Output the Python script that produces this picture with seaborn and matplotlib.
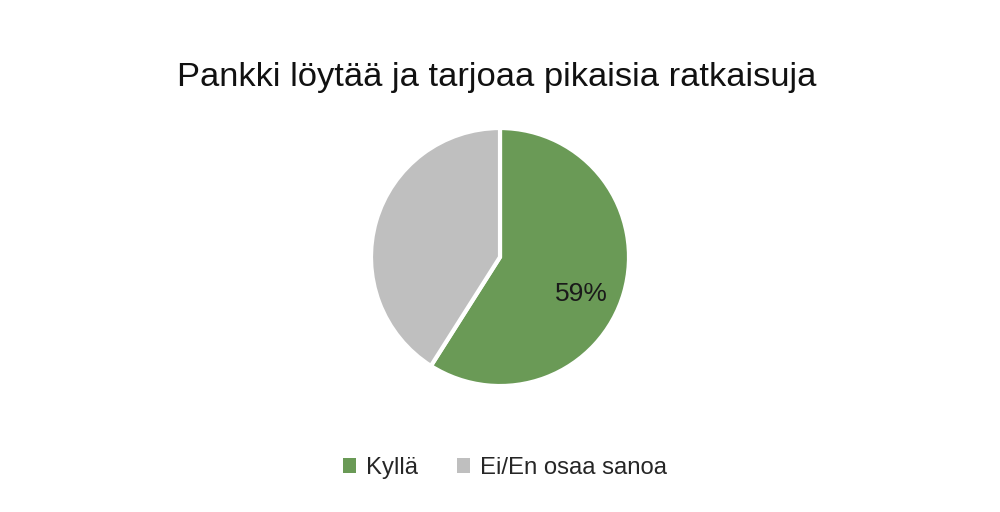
import matplotlib
matplotlib.use("Agg")
import matplotlib.pyplot as plt
import seaborn as sns
from matplotlib.patches import Patch

labels = ["Kyllä", "Ei/En osaa sanoa"]
values = [59, 41]
colors = ["#6a9a56", "#bfbfbf"]
title = "Pankki löytää ja tarjoaa pikaisia ratkaisuja"

sns.set_theme(style="white")
plt.rcParams["font.family"] = ["Liberation Sans", "DejaVu Sans"]

fig = plt.figure(figsize=(10, 5.12), dpi=100)
ax = fig.add_axes([0.371, 0.246, 0.258, 0.504])

wedges, texts, autotexts = ax.pie(
    values, colors=colors, startangle=90, counterclock=False,
    autopct="%1.0f%%", pctdistance=0.68,
    wedgeprops=dict(edgecolor="white", linewidth=3),
    textprops=dict(fontsize=19, color="#1a1a1a"),
)
autotexts[1].set_text("")
# nudge the label a little lower, like the reference
x, y = autotexts[0].get_position()
autotexts[0].set_position((x - 0.02, y - 0.1))
ax.set_xlim(-1.0, 1.0)
ax.set_ylim(-1.0, 1.0)

fig.text(0.497, 0.848, title, ha="center", va="center", fontsize=24.8, color="#111111")

handles = [Patch(facecolor=c, edgecolor="none") for c in colors]
fig.legend(handles, labels, loc="center", bbox_to_anchor=(0.505, 0.086), ncol=2,
           frameon=False, fontsize=17.2, handlelength=0.55, handleheight=0.55,
           handletextpad=0.45, columnspacing=1.6)

fig.savefig("out.png", dpi=100, facecolor="white")
